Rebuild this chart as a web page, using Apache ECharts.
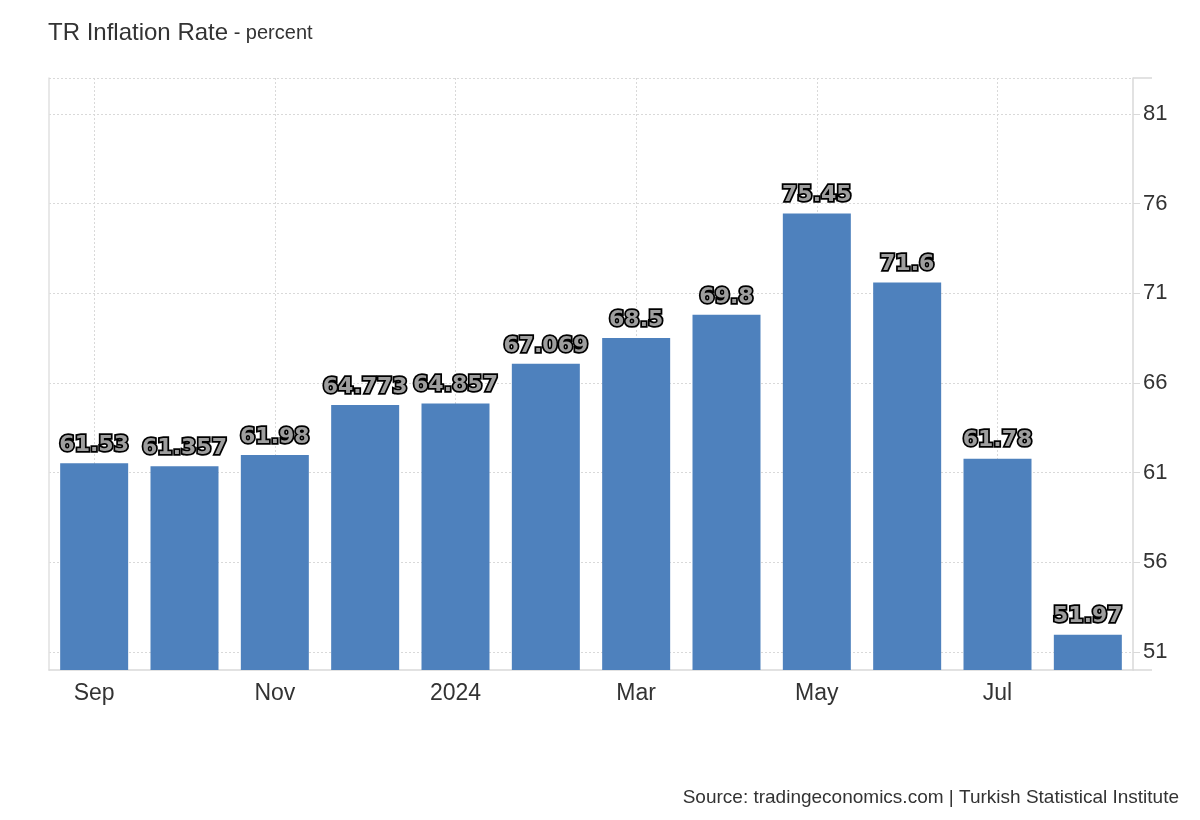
<!DOCTYPE html>
<html><head><meta charset="utf-8">
<script src="https://cdn.jsdelivr.net/npm/echarts@6/dist/echarts.min.js"></script>
<style>html,body{margin:0;padding:0;background:#fff}#c{width:1200px;height:820px}</style>
</head><body><div id="c"></div>
<script>
const categories = ['Sep','Oct','Nov','Dec','2024','Feb','Mar','Apr','May','Jun','Jul','Aug'];
const values = [61.53, 61.357, 61.98, 64.773, 64.857, 67.069, 68.5, 69.8, 75.45, 71.6, 61.78, 51.97];
const yTicks = [51, 56, 61, 66, 71, 76, 81];
const xGridIdx = [0, 2, 4, 6, 8, 10];
const yMin = 50, yMax = 83;

const FF = 'Arial, "Liberation Sans", sans-serif';
const chart = echarts.init(document.getElementById('c'), null, {renderer:'canvas'});
const dotted = {color:'#d9d9d9', type:[2,2], width:1};
chart.setOption({
  animation:false,
  textStyle:{fontFamily:FF},
  title:{
    left:43, top:16,
    text:'{a|TR Inflation Rate}{b| - percent}',
    textStyle:{fontWeight:'normal', rich:{a:{fontSize:24,color:'#333',fontFamily:FF,fontWeight:'normal'},b:{fontSize:20,color:'#333',fontFamily:FF,fontWeight:'normal'}}}
  },
  graphic:[{type:'text', right:21, top:788, style:{text:'Source: tradingeconomics.com | Turkish Statistical Institute', fontSize:19, fill:'#333', fontFamily:FF}}],
  grid:{left:49, right:67, top:78, bottom:150},
  xAxis:[{
    type:'category', data:categories,
    axisLine:{show:true, lineStyle:{color:'#d9d9d9', width:1.5}},
    axisTick:{show:false},
    axisLabel:{interval:1, fontSize:23, color:'#333', margin:12},
    splitLine:{show:false}
  },{
    type:'value', min:-0.5, max:11.5, show:true, position:'bottom',
    axisLine:{show:false, onZero:false}, axisLabel:{show:false},
    axisTick:{show:false, customValues:xGridIdx},
    splitLine:{show:true, lineStyle:dotted}
  }],
  yAxis:[{
    type:'value', position:'right', min:yMin, max:yMax,
    axisLine:{show:true, onZero:false, lineStyle:{color:'#d9d9d9', width:1.5}},
    axisTick:{show:true, length:7, customValues:yTicks, lineStyle:{color:'#d9d9d9'}},
    axisLabel:{customValues:yTicks, fontSize:22, color:'#333', margin:10},
    splitLine:{show:true, lineStyle:dotted}
  },{
    type:'value', position:'left', min:yMin, max:yMax,
    axisLine:{show:true, onZero:false, lineStyle:{color:'#e0e0e0', width:1.5}},
    axisTick:{show:false}, axisLabel:{show:false}, splitLine:{show:false}
  },{
    type:'value', position:'right', min:yMin, max:yMax,
    axisLine:{show:false, onZero:false},
    axisTick:{show:true, length:19, customValues:[yMin, yMax], lineStyle:{color:'#d9d9d9', width:1.5}},
    axisLabel:{show:false}, splitLine:{show:false}
  }],
  series:[{
    type:'bar', data:values, xAxisIndex:0, yAxisIndex:0, barWidth:68,
    itemStyle:{color:'#4e81bd'},
    z:3,
    label:{show:true, position:'top', distance:7, fontSize:22, fontWeight:'bold',
      color:'#9e9e9e', textBorderColor:'#000', textBorderWidth:3.5,
      fontFamily:'"DejaVu Sans", Verdana, sans-serif'}
  },{
    type:'line', data:[], xAxisIndex:0, yAxisIndex:0, silent:true, z:1,
    markLine:{silent:true, symbol:'none', label:{show:false},
      lineStyle:dotted, data:[{yAxis:yMax}]}
  }]
});
</script></body></html>
